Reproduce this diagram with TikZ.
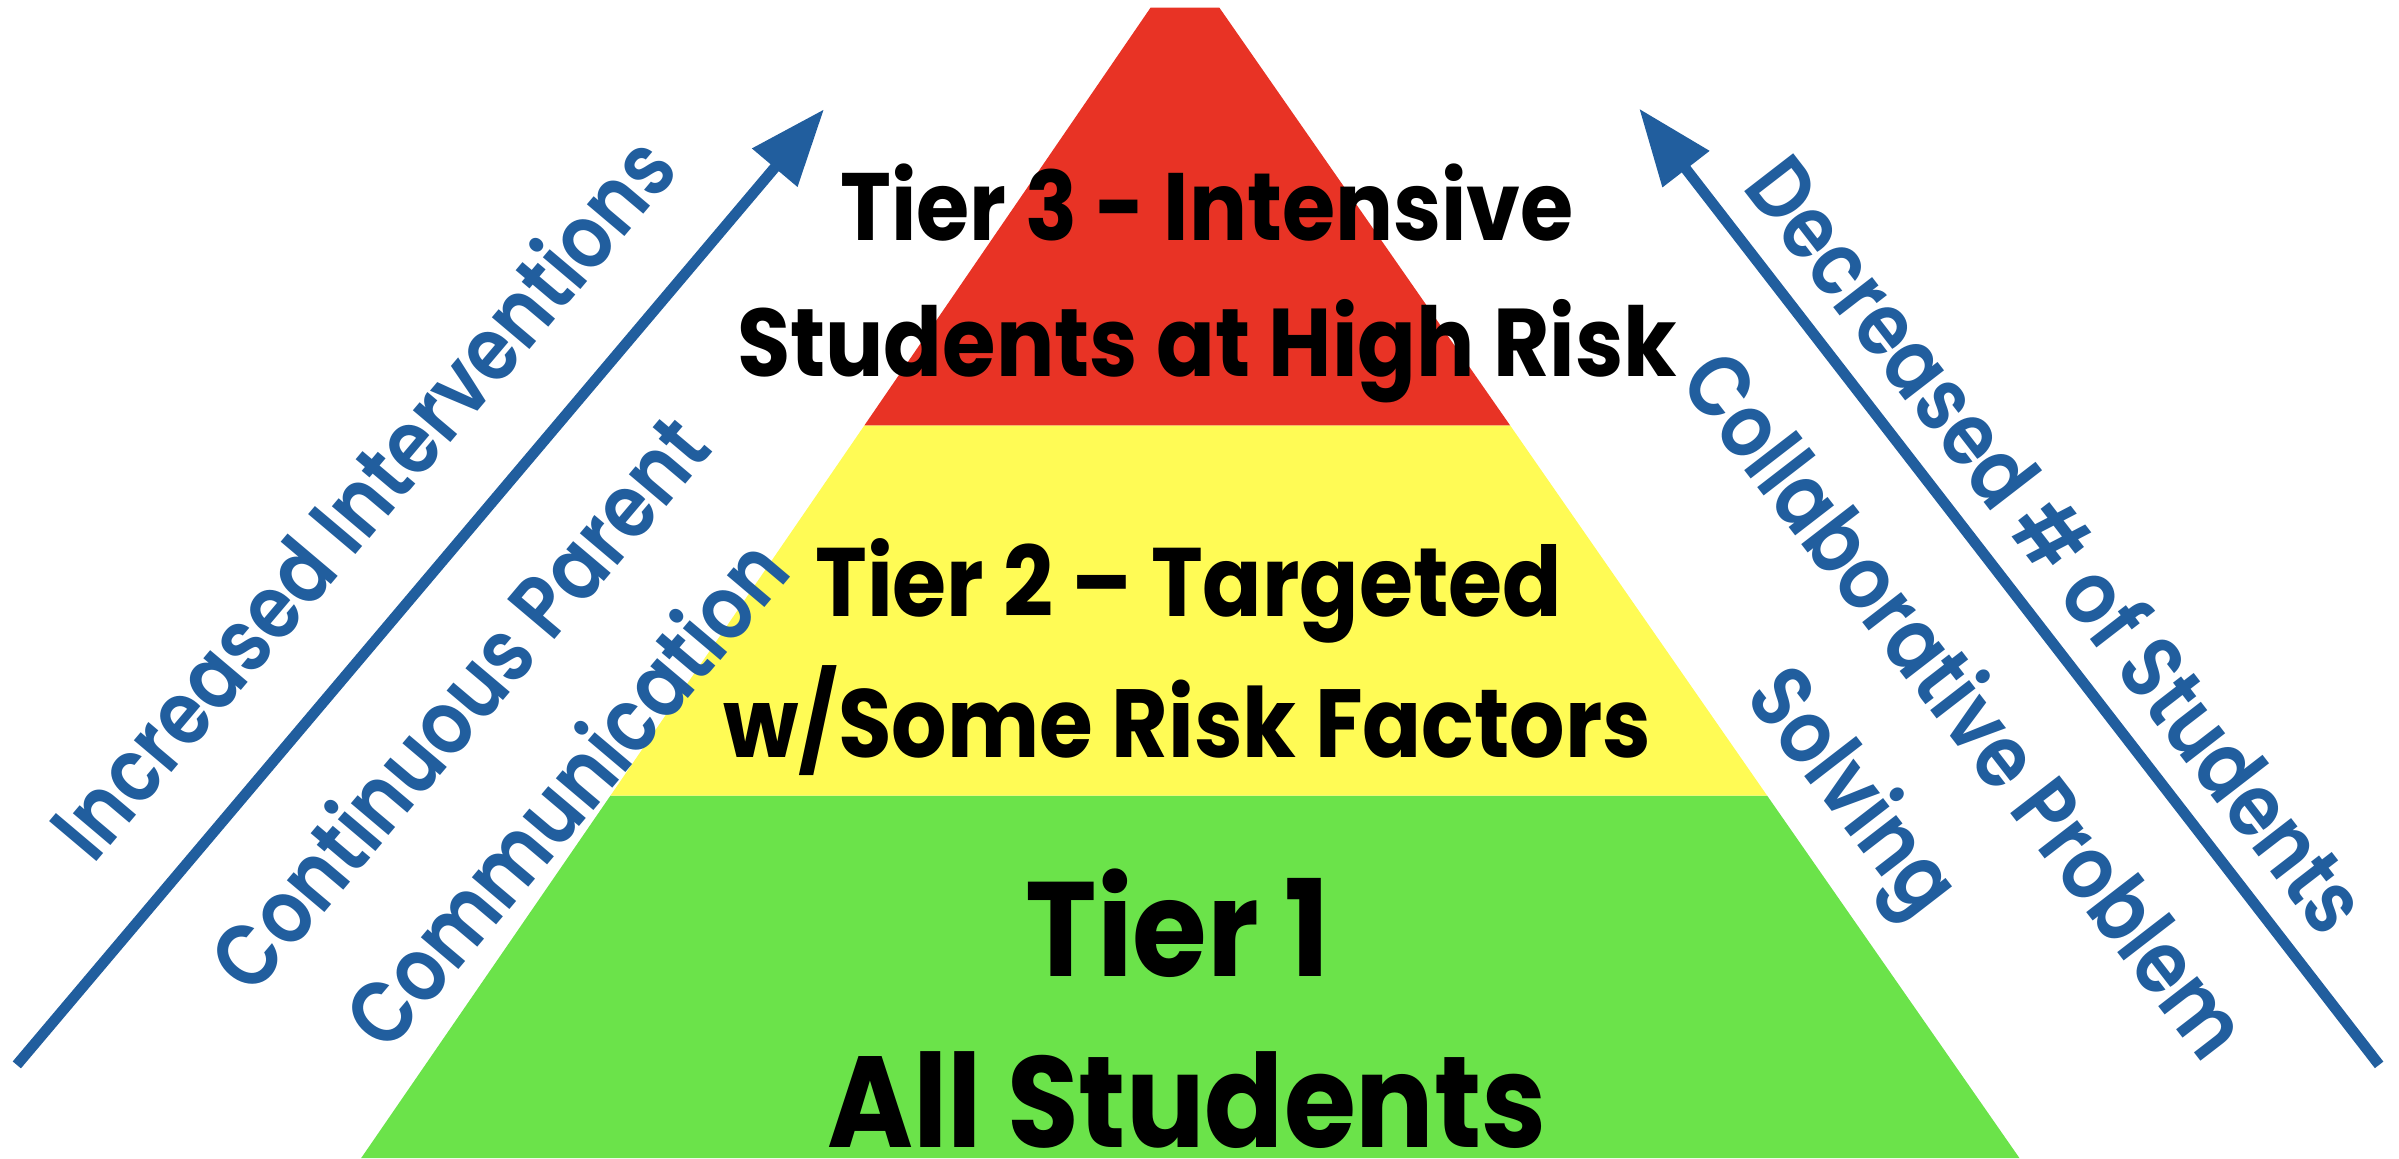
\documentclass[tikz,border=0pt]{standalone}
\usepackage{fontspec}
\setmainfont{Poppins}
\newfontfamily\tierfont{Poppins}[FakeStretch=0.9]
\newfontfamily\sidefont{Poppins SemiBold}[FakeStretch=0.85]
\usetikzlibrary{arrows.meta,positioning}
\definecolor{tierred}{RGB}{232,51,37}
\definecolor{tieryellow}{RGB}{255,251,85}
\definecolor{tiergreen}{RGB}{107,227,74}
\definecolor{arrowblue}{RGB}{33,94,158}
\tikzset{tier label/.style={anchor=base,inner sep=0pt,font=\tierfont\bfseries\fontsize{#1}{#1}\selectfont},
         side label/.style={align=center,inner sep=0pt,text=arrowblue,font=\sidefont\fontsize{16.5}{26}\selectfont},
         trend arrow/.style={draw=arrowblue,line width=2pt,-{Triangle[length=5mm,width=3.7mm]}}
}
\begin{document}
\begin{tikzpicture}[x=0.1mm,y=-0.1mm]
\useasboundingbox (0,0) rectangle (1568,757);

% the three bands
\fill[tiergreen] (236,757) -- (1320,757) -- (1155,520) -- (399,520) -- cycle;
\fill[tieryellow] (399,520) -- (1155,520) -- (987,278) -- (565,278) -- cycle;
\fill[tierred] (565,278) -- (987,278) -- (797,5) -- (752,5) -- cycle;

\node[tier label=17.8] (tier3a) at (789,157) {Tier 3 - Intensive};
\node[tier label=17.9] (tier3b) at (789,246) {Students at High Risk};
\node[tier label=18.1] (tier2a) at (777,403) {Tier 2 – Targeted};
\node[tier label=18] (tier2b) at (776,495) {w/Some Risk Factors};
\node[tier label=25] (tier1a) at (770,638) {Tier 1};
\node[tier label=24.1] (tier1b) at (776,750) {All Students};

% arrows at the sides
\coordinate (incr tail) at (11,696);
\coordinate (incr head) at (538.6,71.4);
\coordinate (decr tail) at (1555,696);
\coordinate (decr head) at (1071.4,71);
\draw[trend arrow] (incr tail) -- (incr head);
\draw[trend arrow] (decr tail) -- (decr head);

\node[side label,rotate=49.8] (incr text) at (236,324) {Increased Interventions};
\node[side label,rotate=49.8] (parent text) at (334,488) {Continuous Parent\\Communication};
\node[side label,rotate=-52.3] (decr text) at (1346,355) {Decreased \# of Students};
\node[side label,rotate=-52.3] (collab text) at (1244,492) {Collaborative Problem\\Solving};
\end{tikzpicture}
\end{document}
